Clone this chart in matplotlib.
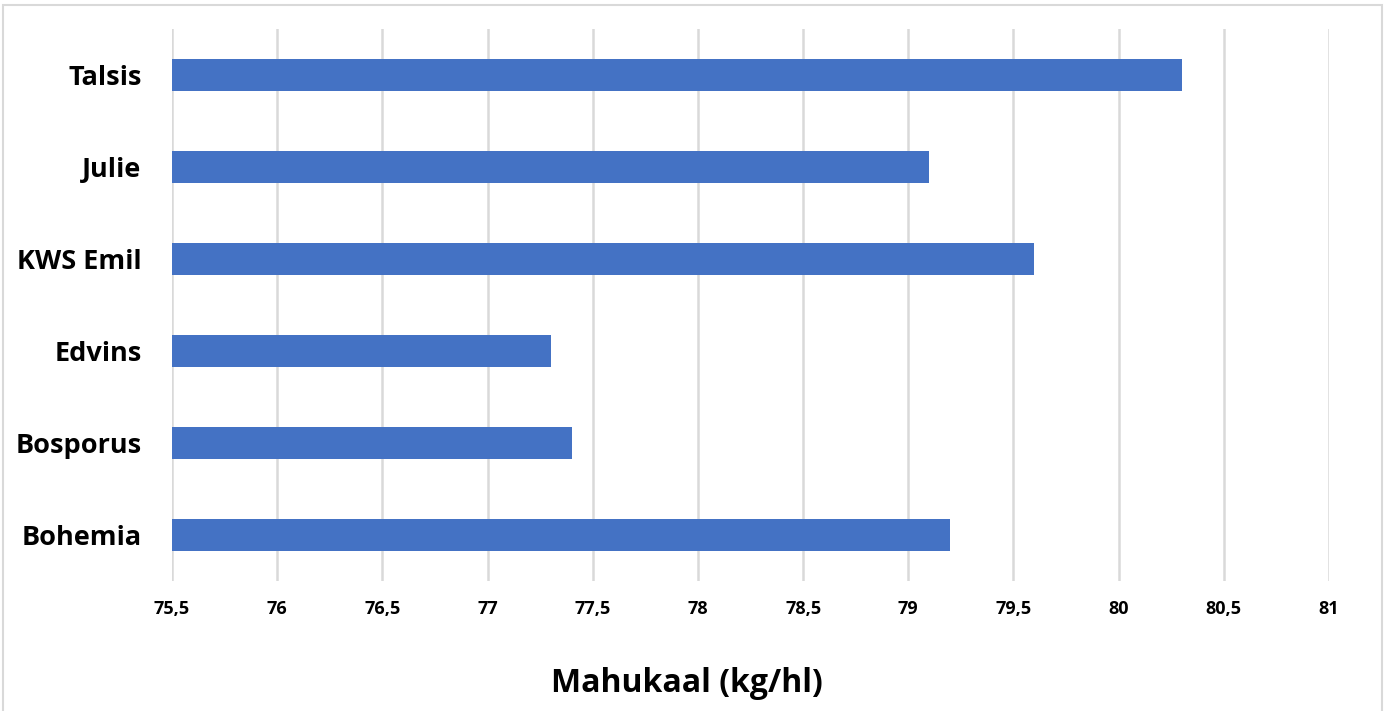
"""Mahukaal (kg/hl) sortide kaupa — horisontaalne tulpdiagramm."""

import matplotlib

matplotlib.use("Agg")
import matplotlib.pyplot as plt
from matplotlib.patches import Rectangle
from matplotlib.ticker import FuncFormatter, MultipleLocator

# Andmed (alt üles, nagu joonisel)
sordid = ["Bohemia", "Bosporus", "Edvins", "KWS Emil", "Julie", "Talsis"]
mahukaal = [79.2, 77.4, 77.3, 79.6, 79.1, 80.3]

SININE = "#4472C4"
HALL = "#D9D9D9"
FONT = ["Open Sans", "DejaVu Sans"]

W, H = 1387, 711
fig = plt.figure(figsize=(W / 100, H / 100), dpi=100)

# raam ümber diagrammiala
fig.patches.append(Rectangle((3 / W, -0.01), 1379 / W, 1 - 5 / H + 0.01,
                             transform=fig.transFigure, fill=False,
                             edgecolor=HALL, linewidth=1.5))

ax = fig.add_axes([172 / W, 130 / H, 1157 / W, 552 / H])
y = list(range(len(sordid)))
ax.barh(y, [v - 75.5 for v in mahukaal], left=75.5, height=0.35,
        color=SININE, zorder=3)

ax.set_xlim(75.5, 81)
ax.set_ylim(-0.5, 5.5)
ax.xaxis.set_major_locator(MultipleLocator(0.5))
ax.xaxis.set_major_formatter(
    FuncFormatter(lambda v, _: f"{v:g}".replace(".", ",")))
ax.grid(axis="x", color=HALL, linewidth=1.8, zorder=0)
ax.set_yticks(y, sordid)

for s in ax.spines.values():
    s.set_visible(False)
ax.tick_params(length=0)
ax.tick_params(axis="x", pad=14)
ax.tick_params(axis="y", pad=22)
for lab in ax.get_xticklabels():
    lab.set_fontfamily(FONT)
    lab.set_fontweight("bold")
    lab.set_fontsize(13)
for lab in ax.get_yticklabels():
    lab.set_fontfamily(FONT)
    lab.set_fontweight("bold")
    lab.set_fontsize(19.5)

ax.set_xlabel("Mahukaal (kg/hl)", fontfamily=FONT, fontweight="bold",
              fontsize=23, labelpad=35)
# le titre d'axe est centré sur la figure, pas sur la zone de tracé
ax.xaxis.label.set_x((W / 2 - 7 - 172) / 1157)

fig.savefig("out.png", dpi=100)
